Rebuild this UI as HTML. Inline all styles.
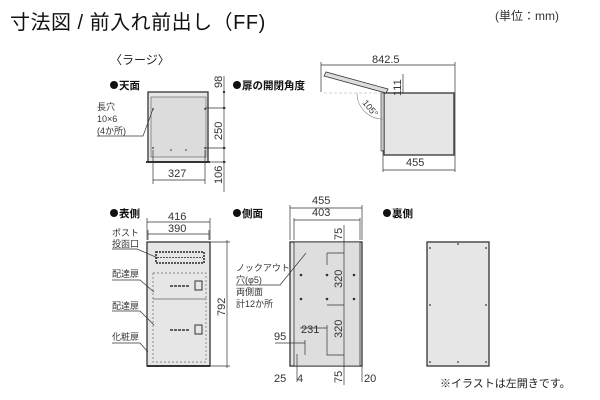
<!DOCTYPE html>
<html><head><meta charset="utf-8"><style>
body{margin:0;background:#fff;}
svg{display:block;font-family:"Liberation Sans","Noto Sans CJK JP",sans-serif;}
.t{font-size:9px;fill:#333;}
.n{font-size:11px;fill:#333;}
.h{font-size:10.5px;fill:#111;font-weight:bold;}
.d{stroke:#333;stroke-width:0.7;fill:none;}
.b{fill:#e6e6e6;stroke:#333;stroke-width:1.3;}
.dot{fill:#333;}
.bul{fill:#111;}
</style></head><body>
<svg width="600" height="400" viewBox="0 0 600 400">
<text x="10" y="29" style="font-size:20px;fill:#111;letter-spacing:0.5px">寸法図 / 前入れ前出し（FF)</text>
<text x="495" y="20" style="font-size:12px;fill:#333">(単位：mm)</text>
<text x="110" y="64" style="font-size:12px;fill:#222">〈ラージ〉</text>

<!-- top view -->
<circle cx="114" cy="85" r="4" class="bul"/><text x="119" y="89" class="h">天面</text>
<rect x="148" y="92" width="60" height="70" class="b"/>
<rect x="151" y="97" width="55" height="60" fill="#dcdcdc" stroke="#555" stroke-width="0.6"/>
<line x1="146" y1="162" x2="210" y2="162" stroke="#333" stroke-width="2"/>
<circle cx="153" cy="109" r="0.9" class="dot"/><circle cx="205" cy="109" r="0.9" class="dot"/>
<circle cx="153" cy="148" r="0.9" class="dot"/><circle cx="205" cy="148" r="0.9" class="dot"/>
<circle cx="171" cy="150" r="0.8" class="dot"/><circle cx="186" cy="150" r="0.8" class="dot"/>
<path class="d" d="M224 76V192M205 108H226M205 148H226M205 162H226M153 150V184M205 150V184M153 180H205M97 136H143L153 109"/>
<circle cx="224" cy="92" r="1.2" class="dot"/><circle cx="224" cy="108" r="1.2" class="dot"/><circle cx="224" cy="148" r="1.2" class="dot"/><circle cx="224" cy="162" r="1.2" class="dot"/>
<text class="n" transform="translate(222,88) rotate(-90)">98</text>
<text class="n" transform="translate(222,140) rotate(-90)">250</text>
<text class="n" transform="translate(222,184) rotate(-90)">106</text>
<text x="168" y="177" class="n">327</text>
<text x="97" y="110" class="t">長穴</text><text x="97" y="122" class="t">10×6</text><text x="97" y="134" class="t">(4か所)</text>

<!-- door angle -->
<circle cx="237" cy="85" r="4" class="bul"/><text x="242" y="89" class="h">扉の開閉角度</text>
<rect x="384" y="93" width="70" height="62" class="b"/>
<polygon points="324,76 326,72 388,89 386,93" fill="#ddd" stroke="#333" stroke-width="0.8"/>
<rect x="381" y="93" width="3" height="58" fill="#ccc" stroke="#333" stroke-width="0.6"/>
<path d="M357 93 A26 26 0 0 0 383 119" fill="none" stroke="#888" stroke-width="0.6"/>
<text class="t" transform="translate(362,103) rotate(50)">105°</text>
<path class="d" d="M321 62V92M455 62V172M321 65H455M403 74V93M383 150V172M383 170H455"/>
<path d="M324 93H384" stroke="#aaa" stroke-width="0.6" stroke-dasharray="3,2"/>
<text x="372" y="63" class="n">842.5</text>
<text class="n" transform="translate(401,96) rotate(-90)">111</text>
<text x="406" y="166" class="n">455</text>

<!-- front -->
<circle cx="114" cy="213" r="4" class="bul"/><text x="119" y="217" class="h">表側</text>
<rect x="147" y="242" width="63" height="124" class="b"/>
<line x1="147" y1="366" x2="210" y2="366" stroke="#333" stroke-width="2"/>
<rect x="156" y="252" width="48" height="11" fill="none" stroke="#444" stroke-width="1.8" stroke-dasharray="2,1"/>
<line x1="157" y1="257.5" x2="203" y2="257.5" stroke="#555" stroke-width="1" stroke-dasharray="2,1"/>
<rect x="153" y="273" width="53" height="26" fill="none" stroke="#666" stroke-width="0.7" stroke-dasharray="2,2"/>
<rect x="153" y="299" width="53" height="63" fill="none" stroke="#666" stroke-width="0.7" stroke-dasharray="2,2"/>
<line x1="170" y1="286" x2="190" y2="286" stroke="#333" stroke-width="1.5" stroke-dasharray="3,1"/>
<rect x="195" y="281" width="7" height="9" fill="none" stroke="#333" stroke-width="1"/>
<line x1="170" y1="330" x2="190" y2="330" stroke="#333" stroke-width="1.5" stroke-dasharray="3,1"/>
<rect x="195" y="325" width="7" height="9" fill="none" stroke="#333" stroke-width="1"/>
<path class="d" d="M147 218V240M210 218V240M147 222H210M148 230V240M209 230V240M148 234H209M210 242H230M210 366H230M227 240V368"/>
<text x="168" y="220" class="n">416</text><text x="168" y="232" class="n">390</text>
<text class="n" transform="translate(225,316) rotate(-90)">792</text>
<text x="112" y="236" class="t">ポスト</text><text x="112" y="247" class="t">投函口</text>
<text x="112" y="277" class="t">配達扉</text><text x="112" y="309" class="t">配達扉</text><text x="112" y="340" class="t">化粧扉</text>
<path class="d" d="M112 249H137L158 258M112 280H140L154 292M112 311H140L154 325M112 343H140L148 352"/>

<!-- side -->
<circle cx="237" cy="213" r="4" class="bul"/><text x="242" y="217" class="h">側面</text>
<rect x="290" y="242" width="72" height="124" class="b"/>
<rect x="294" y="242" width="66" height="124" fill="#dedede" stroke="#333" stroke-width="0.8"/>
<path class="d" d="M290 205V240M362 205V240M290 208H362M294 218V240M360 218V240M294 220H360M344 225V385M327 253H344M327 253V265M327 305H344M327 325V355H344M300 328H327V340M275 343H305M305 340V355M297 354V382M362 366V382M236 285H280L306 253"/>
<circle cx="301" cy="275" r="1.3" class="dot"/><circle cx="327" cy="275" r="1.3" class="dot"/><circle cx="354" cy="275" r="1.3" class="dot"/>
<circle cx="301" cy="299" r="1.3" class="dot"/><circle cx="327" cy="299" r="1.3" class="dot"/><circle cx="354" cy="299" r="1.3" class="dot"/>
<text x="312" y="204" class="n">455</text><text x="312" y="216" class="n">403</text>
<text class="n" transform="translate(342,240) rotate(-90)">75</text>
<text class="n" transform="translate(342,288) rotate(-90)">320</text>
<text class="n" transform="translate(342,338) rotate(-90)">320</text>
<text class="n" transform="translate(342,383) rotate(-90)">75</text>
<text x="301" y="333" class="n">231</text><text x="274" y="340" class="n">95</text>
<text x="274" y="382" class="n">25</text><text x="297" y="382" class="n">4</text><text x="364" y="382" class="n">20</text>
<text x="236" y="271" class="t">ノックアウト</text><text x="236" y="283" class="t">穴(φ5)</text>
<text x="236" y="295" class="t">両側面</text><text x="236" y="307" class="t">計12か所</text>

<!-- back -->
<circle cx="387" cy="213" r="4" class="bul"/><text x="392" y="217" class="h">裏側</text>
<rect x="427" y="242" width="62" height="124" class="b"/>
<g class="dot">
<circle cx="430" cy="248" r="0.9"/><circle cx="458" cy="244" r="0.9"/><circle cx="486" cy="248" r="0.9"/>
<circle cx="430" cy="305" r="0.9"/><circle cx="486" cy="305" r="0.9"/>
<circle cx="430" cy="362" r="0.9"/><circle cx="458" cy="362" r="0.9"/><circle cx="486" cy="362" r="0.9"/>
</g>
<text x="440" y="387" style="font-size:11px;fill:#222">※イラストは左開きです。</text>
</svg>
</body></html>
